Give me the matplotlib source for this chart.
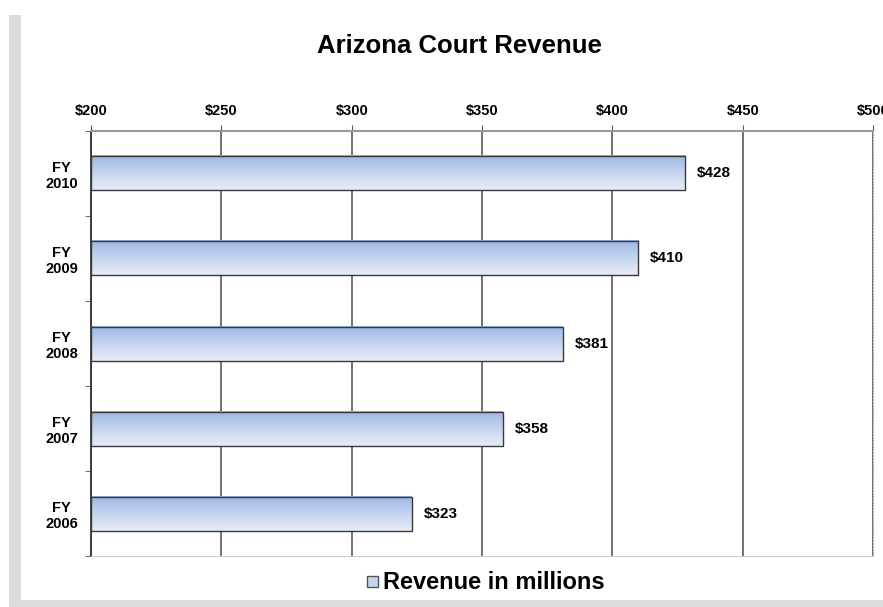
import matplotlib.pyplot as plt
import numpy as np
from matplotlib.patches import Rectangle
from matplotlib.colors import LinearSegmentedColormap

plt.rcParams['font.family'] = ['Liberation Sans', 'DejaVu Sans']

years = ["FY\n2006", "FY\n2007", "FY\n2008", "FY\n2009", "FY\n2010"]
revenue = [323, 358, 381, 410, 428]
ticks = [200, 250, 300, 350, 400, 450, 500]
tick_labels = ["$200", "$250", "$300", "$350", "$400", "$450", "$500"]

fig = plt.figure(figsize=(8.83, 6.07), dpi=100)
ax = fig.add_axes([0.1031, 0.084, 0.8856, 0.7002])

# slide-like frame: shadow on left and bottom
fig.patches.append(Rectangle((0.010, 0.0), 0.014, 0.975, transform=fig.transFigure,
                             facecolor='#dcdcdc', edgecolor='none', zorder=0))
fig.patches.append(Rectangle((0.010, 0.0), 0.99, 0.011, transform=fig.transFigure,
                             facecolor='#dcdcdc', edgecolor='none', zorder=0))

cmap = LinearSegmentedColormap.from_list("bar", ["#9db6e3", "#c5d5ee", "#e6ecf5"])
grad = np.linspace(0, 1, 64).reshape(-1, 1)

y = np.arange(len(years))
bars = ax.barh(y, [v - 200 for v in revenue], left=200, height=0.4,
               facecolor='none', edgecolor='#3a3a3a', linewidth=1.0, zorder=3)
for b in bars:
    x0, y0 = b.get_x(), b.get_y()
    ax.imshow(grad, cmap=cmap, aspect='auto', origin='upper',
              extent=[x0, x0 + b.get_width(), y0, y0 + b.get_height()], zorder=2)
for yi, v in zip(y, revenue):
    ax.text(v + 4.5, yi, f"${v}", va='center', ha='left', fontsize=11, fontweight='bold')

ax.set_xlim(200, 500)
ax.set_ylim(-0.5, len(years) - 0.5)
ax.set_xticks(ticks)
ax.set_xticklabels(tick_labels, fontsize=10.5, fontweight='bold')
ax.xaxis.tick_top()
ax.tick_params(axis='x', length=4, color='#555555', pad=5)
ax.set_yticks(y)
ax.set_yticklabels(years, fontsize=10.5, fontweight='bold', ha='center')
ax.tick_params(axis='y', which='major', length=0, pad=21)
ax.set_yticks(np.arange(-0.5, len(years), 1.0), minor=True)
ax.tick_params(axis='y', which='minor', length=4, color='#555555')

ax.grid(axis='x', color='#666666', linewidth=1.3, zorder=1)
ax.set_axisbelow(True)
ax.spines['top'].set_color('#999999')
ax.spines['top'].set_linewidth(1.5)
ax.spines['bottom'].set_color('#cccccc')
ax.spines['left'].set_color('#333333')
ax.spines['left'].set_linewidth(1.3)
ax.spines['right'].set_color('#aaaaaa')
ax.spines['right'].set_linestyle(':')

fig.text(0.520, 0.925, "Arizona Court Revenue", ha='center', va='center',
         fontsize=18.5, fontweight='bold')

# legend
fig.patches.append(Rectangle((0.416, 0.033), 0.012, 0.018, transform=fig.transFigure,
                             facecolor='#c5d5ee', edgecolor='#555555', linewidth=1))
fig.text(0.434, 0.041, "Revenue in millions", ha='left', va='center',
         fontsize=17, fontweight='bold')

fig.savefig("out.png", dpi=100)
